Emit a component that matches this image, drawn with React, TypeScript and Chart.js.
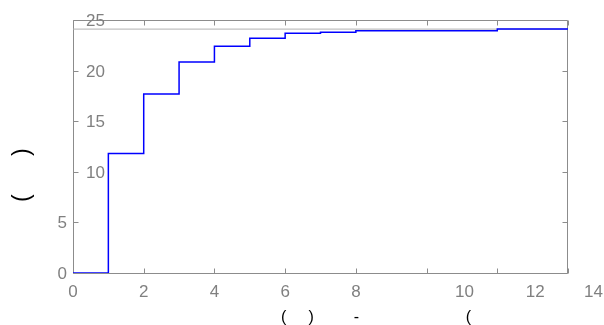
import React, { useEffect, useRef } from "react";
import { Chart, registerables } from "chart.js";

Chart.register(...registerables);

// ---- data ----
const stepX = [0, 1, 2, 3, 4, 5, 6, 7, 8, 12, 14];
const stepY = [0, 11.8, 17.7, 20.85, 22.4, 23.2, 23.7, 23.8, 23.95, 24.1, 24.1];
const limitX = [0, 14];
const limitY = [24.1, 24.1];
const xTickValues = [0, 2, 4, 6, 8, 10, 12, 14];
const yTickValues = [0, 5, 10, 15, 20, 25];
const xTitle = " ".repeat(25) + "(" + " ".repeat(5) + ")" + " ".repeat(9) + "-" + " ".repeat(24) + "(";
const yTitle = "(" + " ".repeat(6) + ")" + " ".repeat(9);

const GRID = "#8c8c8c";
const LABEL = "#808080";
const LABEL_FONT = '17px "Liberation Sans", Arial, sans-serif';

const framePlugin = {
  id: "matlabFrame",
  beforeDatasetsDraw(chart: any) {
    const { ctx, chartArea: a, scales } = chart;
    const x = scales.x;
    const y = scales.y;
    ctx.save();
    ctx.strokeStyle = GRID;
    ctx.lineWidth = 1;
    const L = a.left + 0.5;
    const R = Math.round(a.right) - 0.5;
    const T = a.top + 0.5;
    const B = Math.round(a.bottom) + 0.5;
    ctx.beginPath();
    ctx.rect(L, T, R - L, B - T);
    ctx.stroke();
    const tl = 5;
    ctx.beginPath();
    xTickValues.forEach((v) => {
      const px = Math.round(x.getPixelForValue(v)) + 0.5;
      ctx.moveTo(px, B);
      ctx.lineTo(px, B - tl);
      ctx.moveTo(px, T);
      ctx.lineTo(px, T + tl);
    });
    yTickValues.forEach((v) => {
      const py = Math.round(y.getPixelForValue(v)) + 0.5;
      ctx.moveTo(L, py);
      ctx.lineTo(L + tl, py);
      ctx.moveTo(R, py);
      ctx.lineTo(R - tl, py);
    });
    ctx.stroke();

    // tick labels (two-digit labels are displaced in the reference)
    ctx.fillStyle = LABEL;
    ctx.font = LABEL_FONT;
    ctx.textBaseline = "alphabetic";
    const shift = 38;
    const W = chart.width;
    xTickValues.forEach((v) => {
      const s = String(v);
      const w = ctx.measureText(s).width;
      let cx = x.getPixelForValue(v) + (s.length > 1 ? shift : 0);
      if (cx + w / 2 > W - 1) cx = W - 1 - w / 2;
      ctx.textAlign = "center";
      ctx.fillText(s, cx, a.bottom + 24);
    });
    yTickValues.forEach((v) => {
      const s = String(v);
      ctx.textAlign = "right";
      const rx = a.left - 6 + (s.length > 1 ? shift : 0);
      ctx.fillText(s, rx, y.getPixelForValue(v) + 6);
    });
    ctx.restore();
  },
};

export default function App() {
  const ref = useRef<HTMLCanvasElement | null>(null);

  useEffect(() => {
    if (!ref.current) return;
    const chart = new Chart(ref.current, {
      type: "line",
      data: {
        datasets: [
          {
            label: "steps",
            data: stepX.map((v, i) => ({ x: v, y: stepY[i] })),
            borderColor: "#0000ff",
            borderWidth: 1.5,
            stepped: "before",
            pointRadius: 0,
            fill: false,
          },
          {
            label: "limit",
            data: limitX.map((v, i) => ({ x: v, y: limitY[i] })),
            borderColor: "#b0b0b0",
            borderWidth: 1,
            pointRadius: 0,
            fill: false,
          },
        ],
      },
      options: {
        responsive: false,
        maintainAspectRatio: false,
        animation: false,
        layout: { padding: { top: 20, right: 36, left: 0, bottom: 0 } },
        plugins: {
          legend: { display: false },
          tooltip: { enabled: false },
        },
        scales: {
          x: {
            type: "linear",
            min: 0,
            max: 14,
            grid: { display: false },
            border: { display: false },
            ticks: { display: false },
            title: {
              display: true,
              text: xTitle,
              color: "#000000",
              font: { family: '"Liberation Sans", Arial, sans-serif', size: 16 },
              padding: { top: 0, bottom: -2 },
            },
            afterFit: (s: any) => {
              s.height = 52;
            },
          },
          y: {
            type: "linear",
            min: 0,
            max: 25,
            grid: { display: false },
            border: { display: false },
            ticks: { display: false },
            title: {
              display: true,
              text: yTitle,
              color: "#000000",
              font: { family: '"Liberation Sans", Arial, sans-serif', size: 23 },
              padding: { top: 9, bottom: 0 },
            },
            afterFit: (s: any) => {
              s.width = 73;
            },
          },
        },
      },
      plugins: [framePlugin],
    });
    return () => chart.destroy();
  }, []);

  return (
    <div style={{ position: "fixed", left: 0, top: 0, width: 604, height: 325, background: "#ffffff" }}>
      <canvas ref={ref} width={604} height={325} style={{ width: 604, height: 325, display: "block" }} />
    </div>
  );
}
